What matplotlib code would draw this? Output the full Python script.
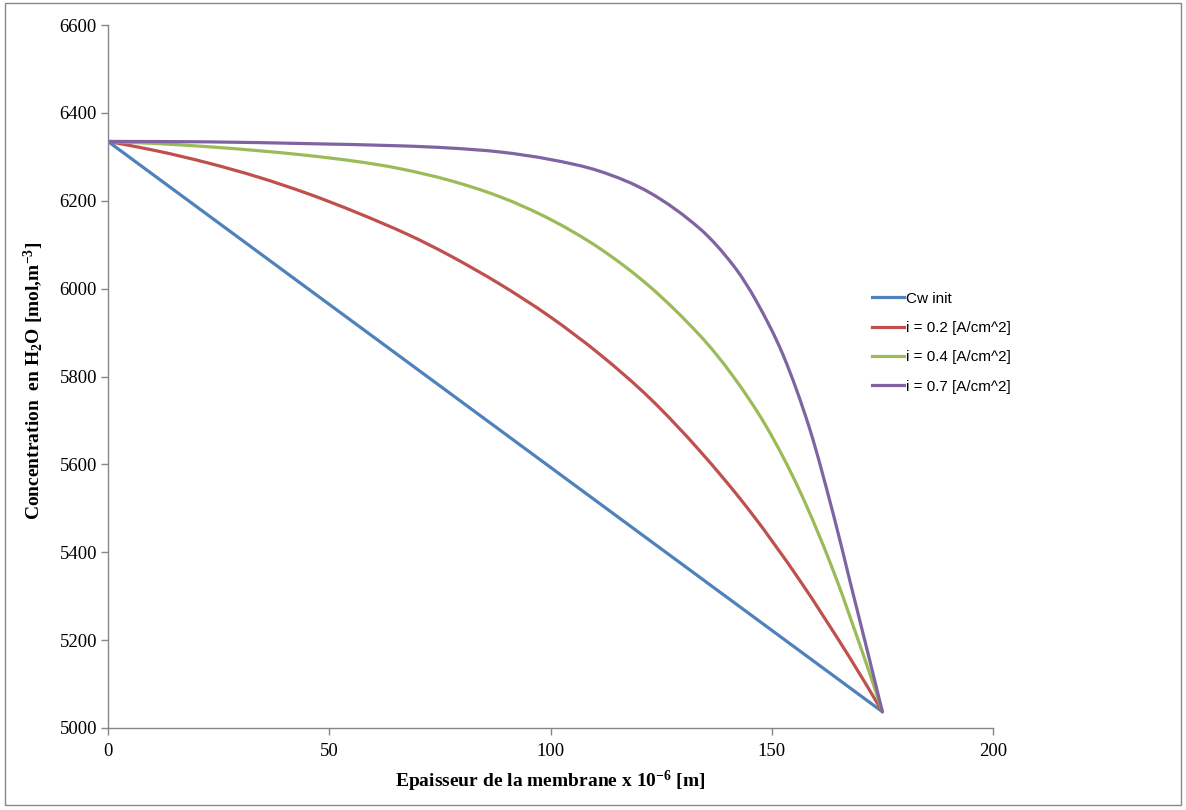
import matplotlib
matplotlib.use("Agg")
import matplotlib.pyplot as plt
from matplotlib.patches import Rectangle, PathPatch
from matplotlib.path import Path
from matplotlib.lines import Line2D

plt.rcParams['mathtext.default'] = 'regular'

# Data (x in 10^-6 m, y in mol/m^3)
x_init = [0, 175]
cw_init = [6335, 5037]

x_02 = [0, 11.3, 22.6, 33.9, 45.2, 56.5, 67.8, 77.3, 88.6, 99.9, 111.2, 122.5,
        133.8, 145.1, 156.4, 167.7, 175]
cw_02 = [6335, 6313, 6286, 6254, 6216, 6172, 6123, 6075, 6010, 5936, 5850, 5750,
         5630, 5493, 5335, 5159, 5037]

x_04 = [0, 11.3, 22.6, 33.9, 45.2, 56.5, 66.0, 77.3, 88.6, 99.9, 111.2, 122.5,
        133.8, 141.3, 148.9, 156.4, 163.9, 171.5, 175]
cw_04 = [6335, 6330, 6323, 6314, 6303, 6289, 6273, 6246, 6209, 6158, 6091, 6004,
         5893, 5800, 5684, 5538, 5358, 5143, 5037]

x_07 = [0, 22.6, 45.2, 66.0, 77.3, 88.6, 99.9, 111.2, 122.5, 133.8, 141.3, 146.6,
        152.6, 158.6, 163.9, 167.7, 171.5, 175]
cw_07 = [6335, 6334, 6330, 6325, 6320, 6311, 6294, 6267, 6218, 6136, 6053, 5970,
         5848, 5680, 5487, 5333, 5180, 5037]

labels = ['Cw init', 'i = 0.2 [A/cm^2]', 'i = 0.4 [A/cm^2]', 'i = 0.7 [A/cm^2]']
colors = ['#4F81BD', '#C0504D', '#9BBB59', '#8064A2']


def smooth_path(xs, ys):
    # smoothed line drawn as cubic Bezier segments through the points
    n = len(xs)
    m = []
    for i in range(n):
        a, b = max(i - 1, 0), min(i + 1, n - 1)
        m.append((ys[b] - ys[a]) / (xs[b] - xs[a]))
    verts = [(xs[0], ys[0])]
    codes = [Path.MOVETO]
    for i in range(n - 1):
        h = (xs[i + 1] - xs[i]) / 3
        verts += [(xs[i] + h, ys[i] + m[i] * h),
                  (xs[i + 1] - h, ys[i + 1] - m[i + 1] * h),
                  (xs[i + 1], ys[i + 1])]
        codes += [Path.CURVE4] * 3
    return Path(verts, codes)


fig = plt.figure(figsize=(11.86, 8.10), dpi=100)
ax = fig.add_axes([108 / 1186, 1 - 728 / 810, (993 - 108) / 1186, (728 - 25) / 810])

series = [(x_init, cw_init), (x_02, cw_02), (x_04, cw_04), (x_07, cw_07)]
handles = []
for (xs, ys), lab, c in zip(series, labels, colors):
    ax.add_patch(PathPatch(smooth_path(xs, ys), fill=False, edgecolor=c, lw=2.3,
                           joinstyle='round', capstyle='round'))
    handles.append(Line2D([], [], color=c, lw=2.3, label=lab))

ax.set_xlim(0, 200)
ax.set_ylim(5000, 6600)
ax.set_xticks([0, 50, 100, 150, 200])
ax.set_yticks(range(5000, 6601, 200))

for s in ['top', 'right']:
    ax.spines[s].set_visible(False)
for s in ['left', 'bottom']:
    ax.spines[s].set_color('#868686')
    ax.spines[s].set_linewidth(1.0)
ax.tick_params(direction='out', length=5, width=1, color='#868686', labelsize=13.5)
ax.tick_params(axis='x', pad=6)
ax.tick_params(axis='y', pad=3)
for t in ax.get_xticklabels() + ax.get_yticklabels():
    t.set_fontfamily('Liberation Serif')

ax.set_xlabel('Epaisseur de la membrane x 10$^{-6}$ [m]', fontsize=14,
              fontweight='bold', family='Liberation Serif', labelpad=6)
ax.set_ylabel('Concentration  en H$_2$O [mol,m$^{-3}$]', fontsize=14,
              fontweight='bold', family='Liberation Serif')
ax.yaxis.set_label_coords(-0.070, 0.494)

leg = ax.legend(handles=handles, loc='upper left', bbox_to_anchor=(0.848, 0.64),
                frameon=False, prop={'family': 'Liberation Sans', 'size': 11},
                handlelength=2.1, handletextpad=0.1, labelspacing=1.0)

# chart area border
fig.patches.append(Rectangle((0.004, 0.006), 0.992, 0.99, transform=fig.transFigure,
                             fill=False, edgecolor='#868686', lw=1))

fig.savefig('out.png', dpi=100)
